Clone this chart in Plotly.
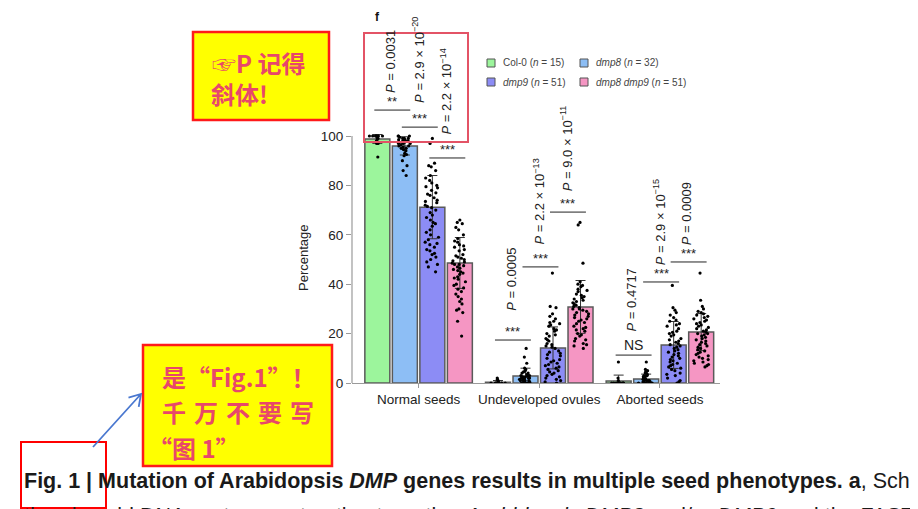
import math
import plotly.graph_objects as go

# ---------------- data ----------------
categories = ["Normal seeds", "Undeveloped ovules", "Aborted seeds"]
genotypes = ["Col-0", "dmp8", "dmp9", "dmp8 dmp9"]
sample_sizes = [15, 32, 51, 51]

mean_col0 = [98.8, 0.3, 0.8]
mean_dmp8 = [96.0, 2.8, 1.6]
mean_dmp9 = [71.2, 14.2, 15.4]
mean_dmp8dmp9 = [48.6, 30.8, 20.6]

sd_col0 = [1.8, 0.7, 2.4]
sd_dmp8 = [3.7, 3.2, 2.0]
sd_dmp9 = [12.8, 8.5, 9.5]
sd_dmp8dmp9 = [10.3, 10.7, 7.5]

col0_normal = [100, 100, 100, 100, 100, 100, 100, 100, 99, 99, 98, 98, 97, 97, 91.5]
col0_undev = [0, 0, 0, 0, 0, 0, 0, 0, 0, 0, 0, 0.5, 1, 1.5, 2]
col0_abort = [0, 0, 0, 0, 0, 0, 0, 0, 0, 0, 0, 0, 1, 2, 8.5]

dmp8_normal = [100, 100, 100, 99.5, 99, 99, 99, 98.5, 98.5, 98, 98, 98, 97.5, 97.5, 97, 97,
               97, 96.5, 96, 96, 95.5, 95, 95, 94.5, 94, 93, 92.5, 92, 90, 88, 86, 84]
dmp8_undev = [0, 0, 0, 0, 0, 0.5, 0.5, 1, 1, 1, 1, 1.5, 1.5, 2, 2, 2, 2, 2.5, 2.5, 3, 3, 3,
              3.5, 4, 4, 4.5, 5, 5.5, 6, 8, 10.5, 14]
dmp8_abort = [0, 0, 0, 0, 0, 0, 0, 0.5, 0.5, 0.5, 1, 1, 1, 1, 1.5, 1.5, 1.5, 2, 2, 2, 2.5,
              2.5, 3, 3, 3, 3.5, 4, 4, 4.5, 5, 5.5, 8.5]

dmp9_normal = [99, 97, 89, 88, 87.5, 86, 84, 83, 82, 81, 80, 79.5, 79, 78, 77, 76.5, 76, 75,
               74, 73.5, 73, 72, 71.5, 71, 70, 69, 68, 67, 66, 65, 64.5, 63.5, 62, 61, 60,
               59, 58, 57, 56.5, 56, 55, 54, 53.5, 52.5, 52, 51, 50, 49, 48, 47, 45]
dmp9_undev = [44.5, 31, 30.5, 28, 27, 26, 25, 24.5, 24, 23.5, 23, 22, 21.5, 21, 20, 19.5, 19,
              18, 17.5, 17, 16, 15.5, 15, 14.5, 14, 13, 12.5, 12, 11.5, 11, 10, 9.5, 9, 8.5,
              8, 7.5, 7, 6.5, 6, 5.5, 5, 4.5, 4, 3.5, 3, 2.5, 2, 1.5, 1, 0.5, 0]
dmp9_abort = [39.5, 30.5, 29.5, 28.5, 27.5, 26.5, 25.5, 25, 24, 23.5, 23, 22, 21, 20.5, 20,
              19.5, 19, 18, 17.5, 17, 16.5, 16, 15.5, 15, 14.5, 14, 13.5, 13, 12.5, 12, 11.5,
              11, 10.5, 10, 9.5, 9, 8.5, 8, 7.5, 7, 6.5, 6, 5.5, 5, 4, 3.5, 3, 2, 1, 0.5, 0]

dmp8dmp9_normal = [66, 65, 64.5, 63, 62, 60, 58.5, 57.5, 57, 56, 55.5, 55, 54, 53.5, 52, 51.5,
                   51, 50.5, 50, 49.5, 49, 48.5, 48, 48, 47.5, 47, 46.5, 46, 45.5, 45, 44.5,
                   44, 43, 42.5, 42, 41, 40, 39.5, 38.5, 38, 37, 36, 35, 34, 33, 32, 30, 29.5,
                   28.5, 25, 19]
dmp8dmp9_undev = [65, 64, 48.5, 41, 40, 39.5, 39, 38, 37.5, 37, 36, 35.5, 35, 34.5, 34, 33.5,
                  33, 32.5, 32, 31.5, 31, 30.5, 30, 30, 29.5, 29, 28.5, 28, 27.5, 27, 26.5, 26,
                  25.5, 25, 24.5, 24, 23, 22.5, 22, 21.5, 21, 20, 19.5, 19, 18, 17.5, 17, 16,
                  15.5, 15, 14]
dmp8dmp9_abort = [44.5, 33.5, 31, 30, 29, 28.5, 28, 27.5, 27, 26.5, 26, 25.5, 25, 24.5, 24,
                  23.5, 23, 22.5, 22, 21.5, 21, 20.5, 20, 20, 19.5, 19, 18.5, 18, 17.5, 17,
                  16.5, 16, 15.5, 15, 14.5, 14, 13.5, 13, 12.5, 12, 11.5, 11, 10.5, 10, 9.5, 9,
                  8.5, 8, 7.5, 7, 6.5]

p_normal = ["0.0031", "2.9 × 10<sup>−20</sup>", "2.2 × 10<sup>−14</sup>"]
p_undev = ["0.0005", "2.2 × 10<sup>−13</sup>", "9.0 × 10<sup>−11</sup>"]
p_abort = ["0.4717", "2.9 × 10<sup>−15</sup>", "0.0009"]
sig_normal = ["**", "***", "***"]
sig_undev = ["***", "***", "***"]
sig_abort = ["NS", "***", "***"]

# ---------------- layout constants ----------------
# the page body has an 8px margin; positions below are given in page pixels
OFF = 8
W, H = 918 - OFF, 509 - OFF
PLOT_LEFT, PLOT_RIGHT, PLOT_BOTTOM = 352, 720, 383
L = PLOT_LEFT - OFF
T = 0
PLOT_W = PLOT_RIGHT - PLOT_LEFT
PLOT_H = PLOT_BOTTOM - OFF
B = H - PLOT_H
R = W - L - PLOT_W
PX_PER_UNIT = 2.47
Y_TOP = PLOT_H / PX_PER_UNIT
X_RANGE = [-0.552, 2.498]
OFFSETS = [-0.342, -0.114, 0.114, 0.342]
BAR_W = 0.207
COLORS = ["#9CF59C", "#8DBEF5", "#8C8CF5", "#F596C3"]
EDGE = "#5a5a5a"
FONT = "Liberation Sans, Arial, Helvetica, sans-serif"
CJK = "Noto Sans CJK SC, DejaVu Sans, sans-serif"
ANN_RED = "#E8476A"

bracket_heights = [[110.5, 103.6, 91.1], [17.4, 47.0, 69.2], [11.3, 40.9, 49.0]]
plabel_heights = [[116.6, 112.6, 99.6], [28.3, 55.1, 76.9], [20.2, 47.0, 55.1]]
BRACKET_HALF = 0.149


def px(x):
    return (x - PLOT_LEFT) / PLOT_W


def py(y):
    return (PLOT_BOTTOM - y) / PLOT_H


means = [mean_col0, mean_dmp8, mean_dmp9, mean_dmp8dmp9]
sds = [sd_col0, sd_dmp8, sd_dmp9, sd_dmp8dmp9]
dots = [
    [col0_normal, col0_undev, col0_abort],
    [dmp8_normal, dmp8_undev, dmp8_abort],
    [dmp9_normal, dmp9_undev, dmp9_abort],
    [dmp8dmp9_normal, dmp8dmp9_undev, dmp8dmp9_abort],
]

fig = go.Figure()
for gi, name in enumerate(genotypes):
    fig.add_trace(go.Bar(
        x=[ci + OFFSETS[gi] for ci in range(len(categories))],
        y=means[gi], width=BAR_W, name=name,
        marker=dict(color=COLORS[gi], line=dict(color=EDGE, width=1.5)),
        error_y=dict(type="data", array=sds[gi], color="#333333", thickness=1, width=5),
        hoverinfo="skip", showlegend=False,
    ))

for gi, name in enumerate(genotypes):
    xs, ys = [], []
    for ci, vals in enumerate(dots[gi]):
        xs += [ci + OFFSETS[gi]] * len(vals)
        ys += vals
    fig.add_trace(go.Box(
        x=xs, y=ys, width=BAR_W, boxpoints="all", jitter=0.65, pointpos=0,
        marker=dict(color="black", size=3.2),
        fillcolor="rgba(0,0,0,0)", line=dict(width=0, color="rgba(0,0,0,0)"),
        whiskerwidth=0, hoverinfo="skip", showlegend=False,
    ))

shapes = []
annotations = []

# y-axis line (only 0..100)
shapes.append(dict(type="line", xref="paper", yref="y", x0=0, x1=0, y0=0, y1=100,
                   line=dict(color="#9a9a9a", width=1.2)))

# significance brackets
p_lists = [p_normal, p_undev, p_abort]
sig_lists = [sig_normal, sig_undev, sig_abort]
for ci in range(len(categories)):
    for k in range(3):
        xc = ci + (OFFSETS[k] + OFFSETS[k + 1]) / 2 + 0.01
        yb = bracket_heights[ci][k]
        shapes.append(dict(type="line", xref="x", yref="y", x0=xc - BRACKET_HALF,
                           x1=xc + BRACKET_HALF, y0=yb, y1=yb,
                           line=dict(color="#222", width=1)))
        s = sig_lists[ci][k]
        annotations.append(dict(
            x=xc, y=yb, xref="x", yref="y", text=s, showarrow=False,
            xanchor="center", yanchor="bottom", yshift=-1 if s != "NS" else 0,
            font=dict(family=FONT, size=13 if s != "NS" else 14, color="#222")))
        annotations.append(dict(
            x=xc - 0.015, y=plabel_heights[ci][k], xref="x", yref="y",
            text="<i>P</i> = " + p_lists[ci][k], textangle=-90, showarrow=False,
            xanchor="center", yanchor="bottom",
            font=dict(family=FONT, size=13, color="#222")))

# y-axis title
annotations.append(dict(x=px(303), y=py(258), xref="paper", yref="paper", text="Percentage",
                        textangle=-90, showarrow=False, xanchor="center", yanchor="middle",
                        font=dict(family=FONT, size=13, color="#222")))
# panel letter
annotations.append(dict(x=px(377), y=py(OFF), xref="paper", yref="paper", text="<b>f</b>",
                        showarrow=False, xanchor="center", yanchor="top",
                        font=dict(family=FONT, size=12, color="#111")))

# legend (custom, two columns)
leg_labels = ["Col-0 (<i>n</i> = 15)", "<i>dmp8</i> (<i>n</i> = 32)",
              "<i>dmp9</i> (<i>n</i> = 51)", "<i>dmp8 dmp9</i> (<i>n</i> = 51)"]
leg_pos = [(487, 63), (580, 63), (487, 82), (580, 82)]
for gi, (lx, ly) in enumerate(leg_pos):
    shapes.append(dict(type="rect", xref="paper", yref="paper", x0=px(lx), x1=px(lx + 8),
                       y0=py(ly + 4), y1=py(ly - 4), fillcolor=COLORS[gi],
                       line=dict(color="#555", width=1)))
    annotations.append(dict(x=px(lx + 14), y=py(ly), xref="paper", yref="paper",
                            text=leg_labels[gi], showarrow=False, xanchor="left",
                            yanchor="middle", font=dict(family=FONT, size=10, color="#444")))

# callout boxes
shapes.append(dict(type="rect", xref="paper", yref="paper", x0=px(193), x1=px(329),
                   y0=py(120), y1=py(32), fillcolor="#FFFF00", line=dict(color="#FF1A1A", width=2.5)))
shapes.append(dict(type="rect", xref="paper", yref="paper", x0=px(143), x1=px(332),
                   y0=py(466), y1=py(345), fillcolor="#FFFF00", line=dict(color="#FF1A1A", width=2.5)))
shapes.append(dict(type="rect", xref="paper", yref="paper", x0=px(364), x1=px(468),
                   y0=py(142), y1=py(33), line=dict(color="#E35366", width=2)))
shapes.append(dict(type="rect", xref="paper", yref="paper", x0=px(21), x1=px(106),
                   y0=py(508), y1=py(442), line=dict(color="#FF0000", width=2)))

SP = "\u2004"
call_lines = [("☞P 记得", 210, 62, 24), ("斜体!", 209, 94, 24),
              ("是“Fig.1”！", 160, 376, 24),
              ("千" + SP + "万" + SP + "不" + SP + "要" + SP + "写", 160, 412, 24),
              ("“图 1”", 146, 447, 24)]
for txt, lx, ly, fs in call_lines:
    annotations.append(dict(x=px(lx), y=py(ly), xref="paper", yref="paper",
                            text="<b>" + txt + "</b>", showarrow=False, xanchor="left",
                            yanchor="middle", font=dict(family=CJK, size=fs, color=ANN_RED)))

# blue arrow
tail = (93, 447)
tip = (141, 394)
dx, dy = tail[0] - tip[0], tail[1] - tip[1]
ln = math.hypot(dx, dy)
ux, uy = dx / ln, dy / ln
wings = []
for ang in (math.radians(32), math.radians(-32)):
    wx = ux * math.cos(ang) - uy * math.sin(ang)
    wy = ux * math.sin(ang) + uy * math.cos(ang)
    wings.append((tip[0] + 13 * wx, tip[1] + 13 * wy))
path = (f"M{px(tail[0])},{py(tail[1])} L{px(tip[0])},{py(tip[1])} "
        f"M{px(wings[0][0])},{py(wings[0][1])} L{px(tip[0])},{py(tip[1])} "
        f"L{px(wings[1][0])},{py(wings[1][1])}")
shapes.append(dict(type="path", xref="paper", yref="paper", path=path,
                   line=dict(color="#4A78D0", width=1.8)))

# caption
annotations.append(dict(
    x=px(22), y=py(481), xref="paper", yref="paper", showarrow=False, xanchor="left",
    yanchor="middle",
    text="<b>Fig. 1 | Mutation of Arabidopsis <i>DMP</i> genes results in multiple seed phenotypes. a</b>, Schematic",
    font=dict(family=FONT, size=21.5, color="#1a1a1a")))
annotations.append(dict(
    x=px(22), y=py(516), xref="paper", yref="paper", showarrow=False, xanchor="left",
    yanchor="middle",
    text="the plasmid DNA vector construction targeting <i>Arabidopsis DMP8</i> and/or <i>DMP9</i> and the FAST",
    font=dict(family=FONT, size=21.5, color="#1a1a1a")))

fig.update_layout(
    width=W, height=H, margin=dict(l=L, r=R, t=T, b=B, autoexpand=False),
    plot_bgcolor="white", paper_bgcolor="white",
    barmode="overlay", boxmode="overlay", hovermode=False,
    shapes=shapes, annotations=annotations, showlegend=False,
    font=dict(family=FONT, color="#222"),
    xaxis=dict(range=X_RANGE, tickvals=[0, 1, 2], ticktext=categories, showline=True,
               linecolor="#9a9a9a", linewidth=1.2, ticks="outside", ticklen=4,
               tickcolor="#9a9a9a", showgrid=False, zeroline=False,
               tickfont=dict(family=FONT, size=13.5, color="#222")),
    yaxis=dict(range=[0, Y_TOP], tickvals=[0, 20, 40, 60, 80, 100], showline=False,
               ticks="outside", ticklen=5, tickcolor="#9a9a9a", showgrid=False,
               zeroline=False, tickfont=dict(family=FONT, size=13.5, color="#222")),
)

fig.write_html("out.html")
